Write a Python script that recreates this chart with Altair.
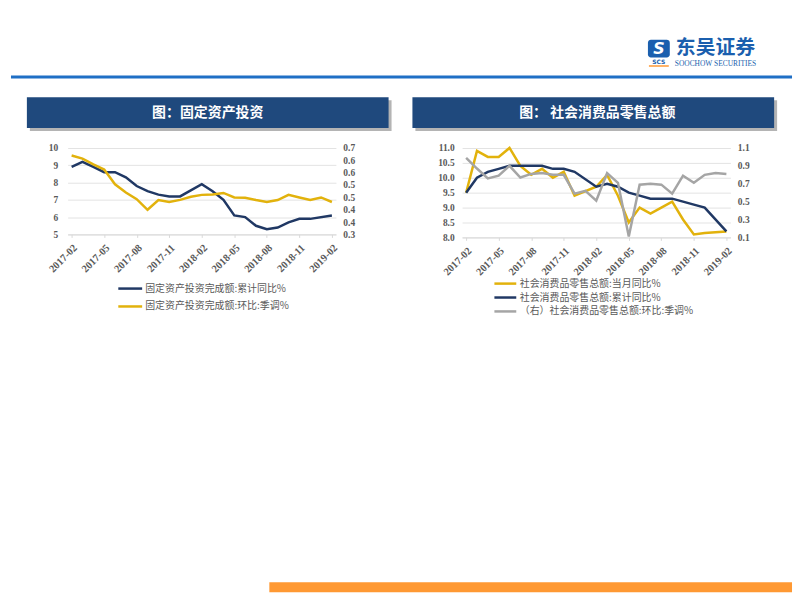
import altair as alt
import pandas as pd

# ---------------- data ----------------
months = ["2017-02", "2017-03", "2017-04", "2017-05", "2017-06", "2017-07", "2017-08",
          "2017-09", "2017-10", "2017-11", "2017-12", "2018-01", "2018-02", "2018-03",
          "2018-04", "2018-05", "2018-06", "2018-07", "2018-08", "2018-09", "2018-10",
          "2018-11", "2018-12", "2019-01", "2019-02"]
x_labels = ["2017-02", "2017-05", "2017-08", "2017-11", "2018-02", "2018-05",
            "2018-08", "2018-11", "2019-02"]

fai_names = ["固定资产投资完成额:累计同比%", "固定资产投资完成额:环比:季调%"]
fai_cum = [8.9, 9.2, 8.9, 8.6, 8.6, 8.3, 7.8, 7.5, 7.3, 7.2, 7.2, None, 7.9, 7.5,
           7.0, 6.1, 6.0, 5.5, 5.3, 5.4, 5.7, 5.9, 5.9, None, 6.1]
fai_mom = [0.665, 0.651, 0.624, 0.600, 0.532, 0.494, 0.463, 0.414, 0.459, 0.450,
           0.460, 0.474, 0.483, 0.485, 0.492, 0.471, 0.470, 0.459, 0.450, 0.459,
           0.483, 0.471, 0.459, 0.471, 0.450]
fai_left_ticks = [5, 6, 7, 8, 9, 10]
fai_right_ticks = [0.3, 0.3571, 0.4143, 0.4714, 0.5286, 0.5857, 0.6429, 0.7]

rs_names = ["社会消费品零售总额:当月同比%", "社会消费品零售总额:累计同比%",
            "（右）社会消费品零售总额:环比:季调%"]
rs_mon = [9.5, 10.9, 10.7, 10.7, 11.0, 10.4, 10.1, 10.3, 10.0, 10.2, 9.4, None, 9.7,
          10.1, 9.4, 8.5, 9.0, 8.8, 9.0, 9.2, 8.6, 8.1, 8.15, None, 8.2]
rs_cum = [9.5, 10.0, 10.2, 10.3, 10.4, 10.4, 10.4, 10.4, 10.3, 10.3, 10.2, None, 9.7,
          9.8, 9.7, 9.5, 9.4, 9.3, 9.3, 9.3, 9.2, 9.1, 9.0, None, 8.2]
rs_sa = [0.99, 0.87, 0.76, 0.79, 0.90, 0.77, 0.81, 0.82, 0.80, 0.80, 0.59, 0.62, 0.51,
         0.82, 0.71, 0.11, 0.69, 0.70, 0.69, 0.59, 0.79, 0.71, 0.80, 0.82, 0.81]
rs_left_ticks = [8.0, 8.5, 9.0, 9.5, 10.0, 10.5, 11.0]
rs_right_ticks = [0.1, 0.3, 0.5, 0.7, 0.9, 1.1]

title_left = "图：固定资产投资"
title_right = "图： 社会消费品零售总额"
logo_cn = "东吴证券"
logo_en = "SOOCHOW SECURITIES"
logo_abbr = "SCS"

# ---------------- styles ----------------
NAVY = "#203864"
GOLD = "#e2b20c"
GRAY = "#a5a5a5"
BAR = "#1f497d"
LOGO = "#1b5fae"
RULE = "#1f6fc5"
ORANGE = "#ff9933"
TXT = "#595959"
SERIF = "Liberation Serif"
CJK = "Noto Sans CJK SC"
W = 786
LINE_SYMBOL = "M-2,0L2,0"


def series_df(values, name):
    d = pd.DataFrame({"month": months, "v": values, "series": name})
    return d.dropna()


def xenc():
    return alt.X("month:O",
                 scale=alt.Scale(type="point", domain=months, padding=0.37),
                 axis=alt.Axis(values=x_labels, labelAngle=-45, title=None,
                               labelFont=SERIF, labelFontWeight="bold",
                               labelFontSize=10.5, labelColor=TXT,
                               domainColor="#d9d9d9", tickColor="#d9d9d9",
                               tickSize=3, labelPadding=5, grid=False))


def legend(x, y, size, rowpad):
    return alt.Legend(orient="none", legendX=x, legendY=y, title=None,
                      symbolType=LINE_SYMBOL, symbolSize=size, symbolStrokeWidth=2.5,
                      labelFont=CJK, labelFontSize=10, labelColor=TXT, labelLimit=400,
                      rowPadding=rowpad, labelOffset=7.5, padding=0)


one = pd.DataFrame({"k": [0]})

# ---------------- header row ----------------
hdr_rule = alt.Chart(one).mark_rule(color=RULE, strokeWidth=3).encode(
    x=alt.value(0), x2=alt.value(W), y=alt.value(67.5))
hdr_icon = alt.Chart(one).mark_rect(color=LOGO, cornerRadius=3).encode(
    x=alt.value(641), x2=alt.value(663), y=alt.value(30), y2=alt.value(48))
hdr_icon_s = alt.Chart(one).mark_text(text="S", color="white", font="DejaVu Sans",
                                      fontWeight="bold", fontStyle="italic",
                                      fontSize=16, baseline="middle").encode(
    x=alt.value(652), y=alt.value(39.5))
hdr_abbr = alt.Chart(one).mark_text(text=logo_abbr, color=LOGO, font="DejaVu Sans",
                                    fontWeight="bold", fontSize=6,
                                    baseline="middle").encode(
    x=alt.value(652), y=alt.value(52))
hdr_abbr_line = alt.Chart(one).mark_rule(color=ORANGE, strokeWidth=1.5).encode(
    x=alt.value(642), x2=alt.value(662), y=alt.value(56.5))
hdr_cn = alt.Chart(one).mark_text(text=logo_cn, color=LOGO, font=CJK,
                                  fontWeight="bold", fontSize=20,
                                  baseline="middle").encode(
    x=alt.value(709), y=alt.value(38.5))
hdr_en = alt.Chart(one).mark_text(text=logo_en, color=LOGO, font="Liberation Sans Narrow",
                                  fontSize=7.5, baseline="middle").encode(
    x=alt.value(709), y=alt.value(54.5))
header = alt.layer(hdr_rule, hdr_icon, hdr_icon_s, hdr_abbr, hdr_abbr_line,
                   hdr_cn, hdr_en).properties(width=W, height=88)

# ---------------- title bars row ----------------
def title_bar(x0, x1, text, tx):
    sh = alt.Chart(one).mark_rect(color="#b4b4b4").encode(
        x=alt.value(x0 + 3), x2=alt.value(x1 + 3), y=alt.value(3), y2=alt.value(34))
    bx = alt.Chart(one).mark_rect(color=BAR).encode(
        x=alt.value(x0), x2=alt.value(x1), y=alt.value(0), y2=alt.value(31))
    tt = alt.Chart(one).mark_text(text=text, color="white", font=CJK,
                                  fontWeight="bold", fontSize=14,
                                  baseline="middle").encode(
        x=alt.value(tx), y=alt.value(15.5))
    return [sh, bx, tt]


titles = alt.layer(*title_bar(16, 380, title_left, 198),
                   *title_bar(404, 768, title_right, 590)).properties(width=W, height=51)

# ---------------- left chart ----------------
cL = alt.Color("series:N", scale=alt.Scale(domain=fai_names, range=[NAVY, GOLD]),
               legend=legend(55.5, 134, 144, 5))
l1 = alt.Chart(series_df(fai_cum, fai_names[0])).mark_line(strokeWidth=2.5).encode(
    x=xenc(),
    y=alt.Y("v:Q", scale=alt.Scale(domain=[5, 10], nice=False, zero=False),
            axis=alt.Axis(values=fai_left_ticks, title=None, domain=False, ticks=False,
                          grid=True, gridColor="#e3e3e3", labelFont=SERIF,
                          labelFontWeight="bold", labelFontSize=9.5, labelColor=TXT,
                          labelPadding=10)),
    color=cL)
l2 = alt.Chart(series_df(fai_mom, fai_names[1])).mark_line(strokeWidth=2.5).encode(
    x=xenc(),
    y=alt.Y("v:Q", scale=alt.Scale(domain=[0.3, 0.7], nice=False, zero=False),
            axis=alt.Axis(orient="right", values=fai_right_ticks, format=".1f",
                          title=None, domain=False, ticks=False, grid=False,
                          labelFont=SERIF, labelFontWeight="bold", labelFontSize=9.5,
                          labelColor=TXT, labelPadding=7)),
    color=cL)
left = alt.layer(l1, l2).resolve_scale(y="independent").properties(width=270, height=87)

# ---------------- right chart ----------------
cR = alt.Color("series:N", scale=alt.Scale(domain=rs_names, range=[GOLD, NAVY, GRAY]),
               legend=legend(36.5, 129.5, 121, 2))
rdf = pd.concat([series_df(rs_mon, rs_names[0]), series_df(rs_cum, rs_names[1])])
r1 = alt.Chart(rdf).mark_line(strokeWidth=2.5).encode(
    x=xenc(),
    y=alt.Y("v:Q", scale=alt.Scale(domain=[8, 11], nice=False, zero=False),
            axis=alt.Axis(values=rs_left_ticks, format=".1f", title=None, domain=False,
                          ticks=False, grid=True, gridColor="#e3e3e3", labelFont=SERIF,
                          labelFontWeight="bold", labelFontSize=9.5, labelColor=TXT,
                          labelPadding=8)),
    color=cR)
r2 = alt.Chart(series_df(rs_sa, rs_names[2])).mark_line(strokeWidth=2.5).encode(
    x=xenc(),
    y=alt.Y("v:Q", scale=alt.Scale(domain=[0.1, 1.1], nice=False, zero=False),
            axis=alt.Axis(orient="right", values=rs_right_ticks, format=".1f",
                          title=None, domain=False, ticks=False, grid=False,
                          labelFont=SERIF, labelFontWeight="bold", labelFontSize=9.5,
                          labelColor=TXT, labelPadding=7)),
    color=cR)
right = alt.layer(r1, r2).resolve_scale(y="independent").properties(width=270, height=90)


def spacer(w, h):
    return alt.Chart(one).mark_point(opacity=0).encode(
        x=alt.value(0), y=alt.value(0)).properties(width=w, height=h)


charts_row = alt.hconcat(spacer(57, 90), left, spacer(127, 90), right,
                         spacing=0, bounds="flush").resolve_scale(color="independent")

# ---------------- bottom row (nested row above takes no height in flush layout) ----
bottom = alt.Chart(one).mark_rect(color=ORANGE).encode(
    x=alt.value(260), x2=alt.value(W), y=alt.value(437), y2=alt.value(447)
).properties(width=W, height=447)

chart = alt.vconcat(header, titles, charts_row, bottom, spacing=0, bounds="flush"
                    ).properties(padding=0, background="white"
                    ).configure_view(stroke=None)

chart.save("out.html", embed_options={"renderer": "svg", "actions": False})
